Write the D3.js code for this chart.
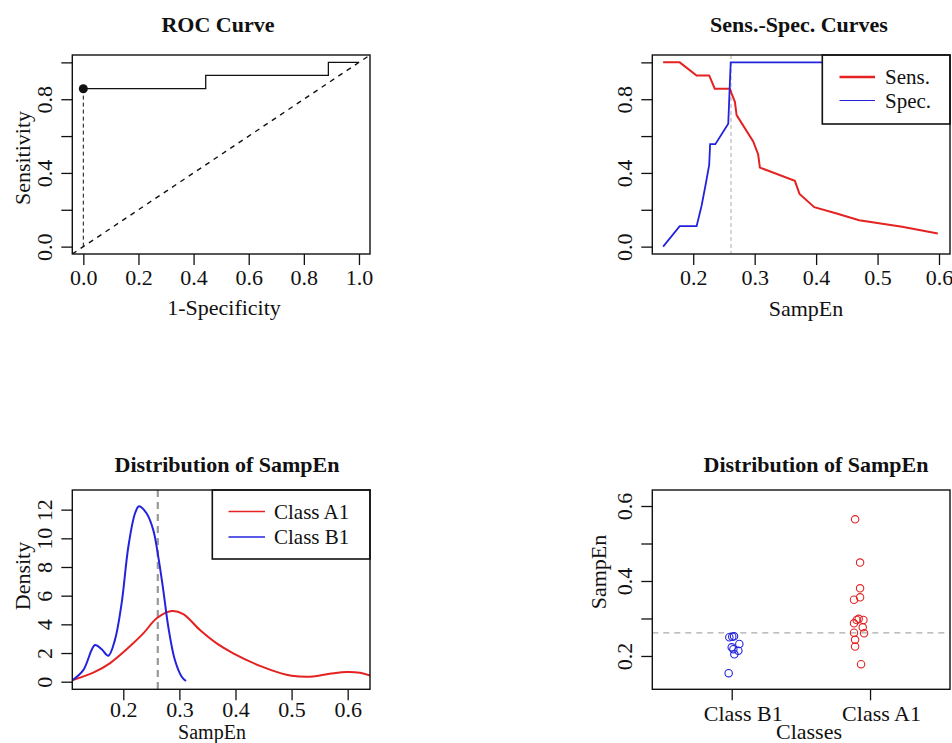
<!DOCTYPE html>
<html>
<head>
<meta charset="utf-8">
<script src="https://cdn.jsdelivr.net/npm/d3@7"></script>
<style>
  body { margin: 0; background: #fff; }
  text { font-family: "Liberation Serif", serif; fill: #111; }
</style>
</head>
<body>
<div id="chart"></div>
<script>
// ---- data ----
const cutoff = 0.2615

// ROC curve (1-specificity, sensitivity)
const rocFpr = [0, 0.444, 0.444, 0.889, 0.889, 1]
const rocTpr = [0.857, 0.857, 0.929, 0.929, 1, 1]

// sensitivity / specificity vs SampEn threshold
const sensX = [0.151, 0.178, 0.2055, 0.226, 0.235, 0.2597, 0.2625, 0.2678, 0.2706, 0.2976, 0.3057, 0.3085, 0.3654, 0.373, 0.397, 0.432, 0.47, 0.54, 0.598]
const sensY = [1, 1, 0.929, 0.929, 0.857, 0.857, 0.83, 0.786, 0.714, 0.571, 0.5, 0.429, 0.357, 0.286, 0.214, 0.181, 0.143, 0.108, 0.071]
const specX = [0.151, 0.178, 0.2055, 0.2136, 0.22, 0.226, 0.2275, 0.236, 0.257, 0.261, 0.6]
const specY = [0, 0.111, 0.111, 0.222, 0.333, 0.444, 0.556, 0.556, 0.667, 1, 1]

// density curves
const densAX = [0.11, 0.1465, 0.176, 0.206, 0.2357, 0.2595, 0.286, 0.307, 0.3367, 0.3665, 0.396, 0.4437, 0.48, 0.5, 0.533, 0.568, 0.598, 0.622, 0.64]
const densAY = [0.12, 0.63, 1.28, 2.26, 3.37, 4.42, 4.93, 4.72, 3.6, 2.67, 1.98, 1.1, 0.6, 0.42, 0.35, 0.55, 0.68, 0.62, 0.42]
const densBX = [0.1098, 0.1287, 0.1496, 0.1615, 0.1733, 0.185, 0.197, 0.209, 0.2208, 0.228, 0.2417, 0.2535, 0.2624, 0.2713, 0.2802, 0.292, 0.3041, 0.3118]
const densBY = [0.12, 0.81, 2.56, 2.26, 1.81, 2.9, 5.46, 9.41, 11.73, 12.24, 11.73, 10.57, 8.71, 6.39, 3.83, 1.51, 0.35, 0.05]

// strip chart (jittered class position, SampEn)
const classes = ["Class B1", "Class A1"]
const b1Pos = [0.983, 1.004, 1.017, 1.055, 1.0, 1.012, 1.048, 1.019, 0.978]
const b1Val = [0.2499, 0.2515, 0.2525, 0.232, 0.223, 0.218, 0.214, 0.2045, 0.154]
const a1Pos = [1.892, 1.928, 1.928, 1.928, 1.884, 1.904, 1.952, 1.918, 1.884, 1.947, 1.884, 1.957, 1.892, 1.892, 1.935]
const a1Val = [0.5645, 0.449, 0.3805, 0.3565, 0.35, 0.296, 0.296, 0.299, 0.287, 0.2765, 0.262, 0.2605, 0.243, 0.225, 0.178]

const RED = "#e52222"
const BLUE = "#2323de"
const FONT = 22

const svg = d3.select("#chart").append("svg")
  .attr("width", 952).attr("height", 743)

// one plot panel: box, scales, axes
function panel(id, box, xDom, yDom, opt) {
  const x = d3.scaleLinear().domain(xDom).range([box.l, box.r])
  const y = d3.scaleLinear().domain(yDom).range([box.b, box.t])
  const g = svg.append("g")

  g.append("clipPath").attr("id", id)
    .append("rect").attr("x", box.l).attr("y", box.t)
    .attr("width", box.r - box.l).attr("height", box.b - box.t)
  const inner = g.append("g").attr("clip-path", `url(#${id})`)

  // x axis
  const xa = g.append("g").attr("transform", `translate(0,${box.b})`)
    .call(d3.axisBottom(x).tickValues(opt.xTicks).tickSizeOuter(0).tickSizeInner(11)
      .tickFormat(opt.xFormat))
  xa.select(".domain").remove()
  xa.selectAll("line").attr("stroke", "#111").attr("stroke-width", 1.3)
  xa.selectAll("text").attr("y", opt.xty || 31).attr("dy", 0).attr("dx", opt.xdx || 0)
    .attr("font-size", FONT).attr("fill", "#111")

  // y axis, rotated labels like base R
  const ya = g.append("g").attr("transform", `translate(${box.l},0)`)
    .call(d3.axisLeft(y).tickValues(opt.yTicks).tickSizeOuter(0).tickSizeInner(11)
      .tickFormat(opt.yFormat))
  ya.select(".domain").remove()
  ya.selectAll("line").attr("stroke", "#111").attr("stroke-width", 1.3)
  ya.selectAll("text").attr("transform", "rotate(-90)")
    .attr("x", 0).attr("y", -20).attr("dy", 0)
    .attr("text-anchor", "middle").attr("font-size", FONT).attr("fill", "#111")

  // title + labels
  g.append("text").attr("x", opt.titleX).attr("y", opt.titleY)
    .attr("text-anchor", "middle").attr("font-weight", "bold").attr("font-size", FONT)
    .text(opt.title)
  g.append("text").attr("x", opt.xlabX).attr("y", opt.xlabY)
    .attr("text-anchor", "middle").attr("font-size", opt.xlabSize || FONT).text(opt.xlab)
  if (opt.ylab) {
    g.append("text")
      .attr("transform", `translate(${opt.ylabX},${opt.ylabY}) rotate(-90)`)
      .attr("text-anchor", "middle").attr("font-size", FONT).text(opt.ylab)
  }

  return { x, y, g, inner, box }
}

function drawBox(p) {
  p.g.append("rect").attr("x", p.box.l).attr("y", p.box.t)
    .attr("width", p.box.r - p.box.l).attr("height", p.box.b - p.box.t)
    .attr("fill", "none").attr("stroke", "#111").attr("stroke-width", 1.4)
}

function legend(p, lx, ly, w, h, items, lineX, textX, rows) {
  p.g.append("rect").attr("x", lx).attr("y", ly).attr("width", w).attr("height", h)
    .attr("fill", "#fff").attr("stroke", "#111").attr("stroke-width", 1.6)
  items.forEach((it, i) => {
    p.g.append("line").attr("x1", lineX[0]).attr("x2", lineX[1])
      .attr("y1", rows[i]).attr("y2", rows[i])
      .attr("stroke", it.color).attr("stroke-width", it.width)
    p.g.append("text").attr("x", textX).attr("y", rows[i] + 7)
      .attr("font-size", 21).text(it.label)
  })
}

const fmt1 = d3.format(".1f")
const sparse = keep => d => keep.includes(+d.toFixed(2)) ? fmt1(d) : ""

// ---- panel 1: ROC ----
const p1 = panel("c1", { l: 72.3, r: 370, t: 55, b: 254 }, [-0.04, 1.04], [-0.04, 1.04], {
  xTicks: [0, 0.2, 0.4, 0.6, 0.8, 1], xFormat: fmt1,
  yTicks: [0, 0.2, 0.4, 0.6, 0.8, 1], yFormat: sparse([0, 0.4, 0.8]),
  title: "ROC Curve", titleX: 218, titleY: 32,
  xlab: "1-Specificity", xlabX: 224, xlabY: 315,
  ylab: "Sensitivity", ylabX: 30, ylabY: 158
})
p1.inner.append("line")
  .attr("x1", p1.x(-0.04)).attr("y1", p1.y(-0.04)).attr("x2", p1.x(1.04)).attr("y2", p1.y(1.04))
  .attr("stroke", "#111").attr("stroke-width", 1.4).attr("stroke-dasharray", "5,5")
p1.inner.append("line")
  .attr("x1", p1.x(rocFpr[0])).attr("y1", p1.y(0)).attr("x2", p1.x(rocFpr[0])).attr("y2", p1.y(rocTpr[0]))
  .attr("stroke", "#111").attr("stroke-width", 1).attr("stroke-dasharray", "4,3")
p1.inner.append("path")
  .datum(d3.zip(rocFpr, rocTpr))
  .attr("d", d3.line().x(d => p1.x(d[0])).y(d => p1.y(d[1])))
  .attr("fill", "none").attr("stroke", "#111").attr("stroke-width", 1.3)
p1.inner.append("circle").attr("cx", p1.x(rocFpr[0])).attr("cy", p1.y(rocTpr[0])).attr("r", 4.5)
  .attr("fill", "#111")
drawBox(p1)

// ---- panel 2: sens/spec ----
const p2 = panel("c2", { l: 652.3, r: 950, t: 55, b: 254 }, [0.1334, 0.6179], [-0.04, 1.04], {
  xTicks: [0.2, 0.3, 0.4, 0.5, 0.6], xFormat: fmt1,
  yTicks: [0, 0.2, 0.4, 0.6, 0.8, 1], yFormat: sparse([0, 0.4, 0.8]),
  title: "Sens.-Spec. Curves", titleX: 799, titleY: 32,
  xlab: "SampEn", xlabX: 806, xlabY: 316
})
p2.inner.append("line")
  .attr("x1", p2.x(cutoff)).attr("x2", p2.x(cutoff)).attr("y1", p2.box.t).attr("y2", p2.box.b)
  .attr("stroke", "#aaa").attr("stroke-width", 1).attr("stroke-dasharray", "4,3")
const ln2 = d3.line().x(d => p2.x(d[0])).y(d => p2.y(d[1]))
p2.inner.append("path").datum(d3.zip(sensX, sensY)).attr("d", ln2)
  .attr("fill", "none").attr("stroke", RED).attr("stroke-width", 2)
p2.inner.append("path").datum(d3.zip(specX, specY)).attr("d", ln2)
  .attr("fill", "none").attr("stroke", BLUE).attr("stroke-width", 1.8)
legend(p2, 822.3, 55, 127.7, 69, [
  { label: "Sens.", color: RED, width: 2.6 },
  { label: "Spec.", color: BLUE, width: 1.2 }
], [839.5, 875], 885, [77, 100.5])
drawBox(p2)

// ---- panel 3: densities ----
const p3 = panel("c3", { l: 72.3, r: 370, t: 490, b: 689.3 }, [0.1091, 0.6398], [-0.53, 13.37], {
  xTicks: [0.2, 0.3, 0.4, 0.5, 0.6], xFormat: fmt1, xty: 28,
  yTicks: [0, 2, 4, 6, 8, 10, 12], yFormat: d3.format("d"),
  title: "Distribution of SampEn", titleX: 227, titleY: 472,
  xlab: "SampEn", xlabX: 212, xlabY: 738.5, xlabSize: 20,
  ylab: "Density", ylabX: 30, ylabY: 576
})
p3.inner.append("line")
  .attr("x1", p3.x(cutoff)).attr("x2", p3.x(cutoff)).attr("y1", p3.box.t).attr("y2", p3.box.b)
  .attr("stroke", "#999").attr("stroke-width", 2.2).attr("stroke-dasharray", "7,5")
const ln3 = d3.line().curve(d3.curveCatmullRom).x(d => p3.x(d[0])).y(d => p3.y(d[1]))
p3.inner.append("path").datum(d3.zip(densAX, densAY)).attr("d", ln3)
  .attr("fill", "none").attr("stroke", RED).attr("stroke-width", 2)
p3.inner.append("path").datum(d3.zip(densBX, densBY)).attr("d", ln3)
  .attr("fill", "none").attr("stroke", BLUE).attr("stroke-width", 2)
legend(p3, 212.3, 490, 157.7, 69, [
  { label: "Class A1", color: RED, width: 1.3 },
  { label: "Class B1", color: BLUE, width: 1.3 }
], [228.5, 265], 274, [511.5, 537])
drawBox(p3)

// ---- panel 4: strip chart ----
const p4 = panel("c4", { l: 652.3, r: 950, t: 490, b: 689.3 }, [0.426, 2.578], [0.1111, 0.6427], {
  xTicks: [1, 2], xFormat: d => classes[d - 1], xdx: 11, xty: 32,
  yTicks: [0.2, 0.3, 0.4, 0.5, 0.6], yFormat: sparse([0.2, 0.4, 0.6]),
  title: "Distribution of SampEn", titleX: 816, titleY: 472,
  xlab: "Classes", xlabX: 809, xlabY: 739,
  ylab: "SampEn", ylabX: 606, ylabY: 572
})
p4.inner.append("line")
  .attr("x1", p4.box.l).attr("x2", p4.box.r).attr("y1", p4.y(cutoff)).attr("y2", p4.y(cutoff))
  .attr("stroke", "#aaa").attr("stroke-width", 1.1).attr("stroke-dasharray", "6,5")
p4.inner.selectAll("circle.b1").data(d3.zip(b1Pos, b1Val)).enter().append("circle")
  .attr("cx", d => p4.x(d[0])).attr("cy", d => p4.y(d[1])).attr("r", 3.7)
  .attr("fill", "none").attr("stroke", BLUE).attr("stroke-width", 1.1)
p4.inner.selectAll("circle.a1").data(d3.zip(a1Pos, a1Val)).enter().append("circle")
  .attr("cx", d => p4.x(d[0])).attr("cy", d => p4.y(d[1])).attr("r", 3.7)
  .attr("fill", "none").attr("stroke", RED).attr("stroke-width", 1.1)
drawBox(p4)
</script>
</body>
</html>
